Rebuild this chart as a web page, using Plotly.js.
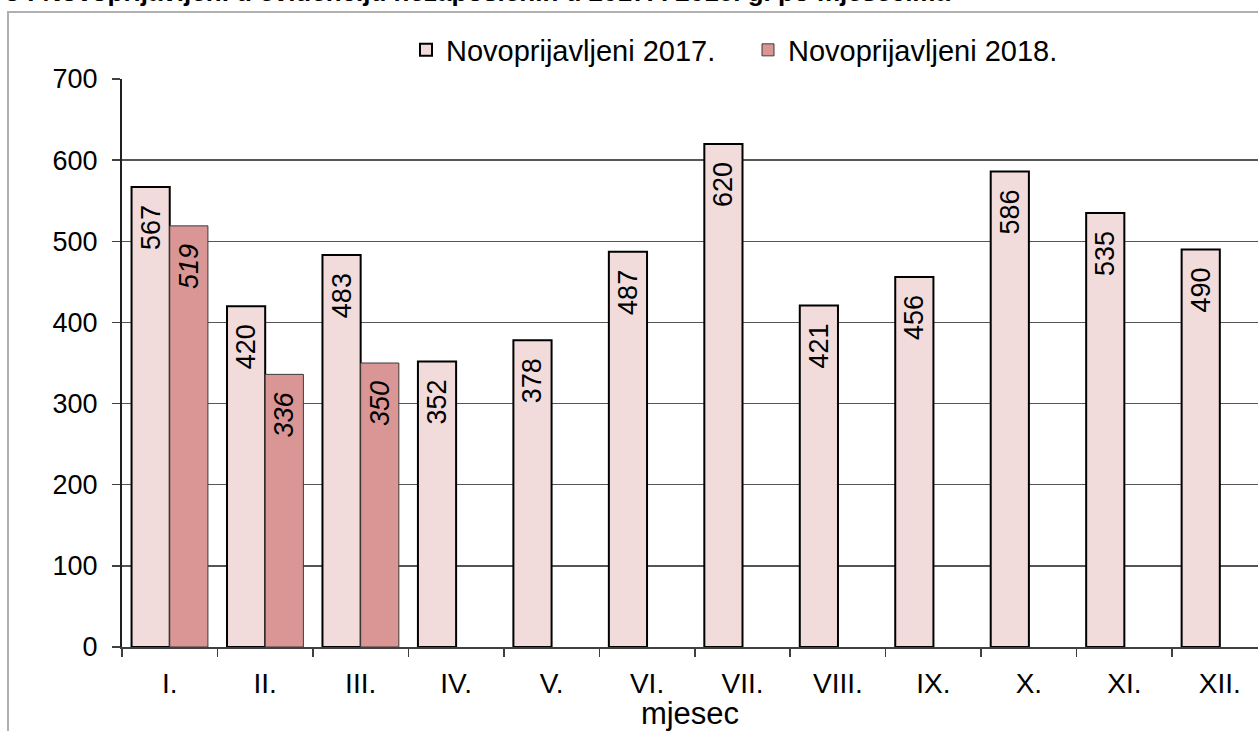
<!DOCTYPE html>
<html>
<head>
<meta charset="utf-8">
<script src="https://cdn.plot.ly/plotly-3.0.1.min.js"></script>
<style>
html,body{margin:0;padding:0;background:#fff;}
#chart{width:1258px;height:731px;}
</style>
</head>
<body>
<div id="chart"></div>
<script>
const months = ["I.","II.","III.","IV.","V.","VI.","VII.","VIII.","IX.","X.","XI.","XII."];
const values2017 = [567,420,483,352,378,487,620,421,456,586,535,490];
const values2018 = [519,336,350,null,null,null,null,null,null,null,null,null];
const seriesNames = ["Novoprijavljeni 2017.","Novoprijavljeni 2018."];
const yTicks = [0,100,200,300,400,500,600,700];
const titleText = "Slika 3 : Novoprijavljeni u evidenciju nezaposlenih u 2017. i 2018. g. po mjesecima";
const xTitle = "mjesec";

const FONT = "Liberation Sans, Arial, sans-serif";
const pad = "\u00a0\u00a0";

const trace2017 = {
  type:"bar", name:seriesNames[0], x:months, y:values2017,
  marker:{color:"#F2DCDB", line:{color:"#000000", width:2}},
  text: values2017.map(v => v==null ? "" : v + pad),
  textposition:"inside", insidetextanchor:"end", textangle:-90,
  textfont:{family:FONT, size:27, color:"#000"},
  constraintext:"none", cliponaxis:false, hoverinfo:"x+y"
};
const trace2018 = {
  type:"bar", name:seriesNames[1], x:months, y:values2018,
  marker:{color:"#D99694", line:{color:"#3a3a3a", width:1}},
  text: values2018.map(v => v==null ? "" : v + pad),
  textposition:"inside", insidetextanchor:"end", textangle:-90,
  textfont:{family:FONT, size:27, color:"#000", style:"italic"},
  constraintext:"none", cliponaxis:false, hoverinfo:"x+y"
};

const L=122, R=0, T=79, B=84, W=1258, H=731;
const pw=W-L-R, ph=H-T-B;
const px = x => (x-L)/pw;
const py = y => (H-B-y)/ph;

const layout = {
  width:W, height:H,
  margin:{l:L, r:R, t:T, b:B, pad:0},
  paper_bgcolor:"#ffffff", plot_bgcolor:"#ffffff",
  font:{family:FONT, color:"#000"},
  barmode:"group", bargap:0.2, bargroupgap:0,
  showlegend:true,
  legend:{orientation:"h", x:px(748), xanchor:"center", y:py(50), yanchor:"middle",
          font:{family:FONT, size:29, color:"#000"}, bgcolor:"rgba(0,0,0,0)",
          traceorder:"normal", itemwidth:30, entrywidth:297},
  xaxis:{
    type:"category", range:[-0.5, 11.4], tickson:"boundaries",
    ticks:"outside", ticklen:8, tickwidth:1.5, tickcolor:"#404040",
    showline:true, linecolor:"#404040", linewidth:2,
    showgrid:false, zeroline:false,
    tickfont:{family:FONT, size:28, color:"#000"},
    ticklabelstandoff:10,
    title:{text:xTitle, font:{family:FONT, size:31, color:"#000"}, standoff:2},
    automargin:false, fixedrange:true
  },
  yaxis:{
    range:[0,700], tickvals:yTicks, ticktext:yTicks.map(String),
    ticks:"outside", ticklen:8, tickwidth:1.5, tickcolor:"#404040",
    showline:true, linecolor:"#202020", linewidth:2,
    showgrid:true, gridcolor:"#555555", gridwidth:1.5,
    zeroline:false,
    tickfont:{family:FONT, size:27, color:"#000"},
    ticklabelstandoff:9,
    automargin:false, fixedrange:true
  },
  shapes:[{
    type:"path", xref:"paper", yref:"paper",
    path:`M ${px(8)} ${py(800)} L ${px(8)} ${py(12)} L ${px(1300)} ${py(12)}`,
    line:{color:"#b0b0b0", width:2}
  }],
  annotations:[{
    xref:"paper", yref:"paper", x:px(952), y:py(9.5), xanchor:"right", yanchor:"bottom",
    text:"<b>"+titleText+"</b>", showarrow:false,
    font:{family:FONT, size:26, color:"#000"}
  }]
};

Plotly.newPlot("chart", [trace2017, trace2018], layout, {displayModeBar:false, staticPlot:true});
</script>
</body>
</html>
